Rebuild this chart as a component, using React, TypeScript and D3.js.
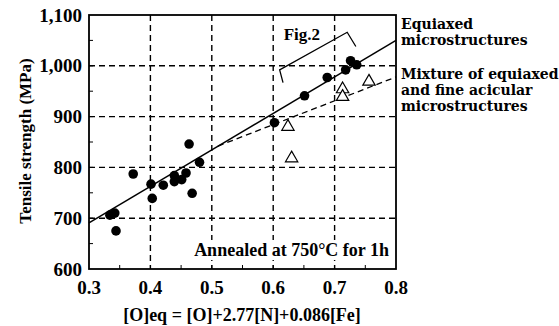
import { useEffect, useRef } from "react";
import * as d3 from "d3";

// equiaxed microstructures (filled circles)
const equiaxedX = [0.334, 0.342, 0.344, 0.372, 0.401, 0.403, 0.421, 0.439, 0.439, 0.451, 0.458, 0.463, 0.468, 0.48, 0.602, 0.651, 0.688, 0.718, 0.726, 0.736];
const equiaxedY = [706, 710, 675, 787, 767, 739, 765, 784, 772, 776, 789, 846, 749, 810, 888, 941, 977, 992, 1010, 1002];

// mixture of equiaxed and fine acicular (open triangles)
const mixtureX = [0.624, 0.63, 0.713, 0.713, 0.756];
const mixtureY = [880, 818, 954, 939, 969];

// fitted lines
const solidLineX = [0.3, 0.8];
const solidLineY = [691, 1050];
const dashedLineX = [0.51, 0.8];
const dashedLineY = [842, 978];

// Fig.2 bracket
const bracketX = [0.616, 0.6105, 0.7205, 0.7346];
const bracketY = [967, 992, 1066, 1038];

const xTicks = [0.3, 0.4, 0.5, 0.6, 0.7, 0.8];
const yTicks = [600, 700, 800, 900, 1000, 1100];
const xGrid = [0.4, 0.5, 0.6, 0.7];
const yGrid = [700, 800, 900, 1000];
const xMinor = [0.35, 0.45, 0.55, 0.65, 0.75];
const yMinor = [650, 750, 850, 950, 1050];

const legendEq = ["Equiaxed", "microstructures"];
const legendMix = ["Mixture of equiaxed", "and fine acicular", "microstructures"];

const FONT = "Liberation Serif, Times New Roman, Times, serif";
const LEGEND_FONT = "DejaVu Serif, serif";

const App = () => {
  const ref = useRef<SVGSVGElement>(null);

  useEffect(() => {
    const width = 559;
    const height = 326;
    const svg = d3.select(ref.current).attr("width", width).attr("height", height);
    svg.selectAll("*").remove();

    const x = d3.scaleLinear().domain([0.3, 0.8]).range([89, 396]);
    const y = d3.scaleLinear().domain([600, 1100]).range([269, 15]);
    const [x0, x1] = x.range();
    const [y0, y1] = y.range();

    // grid
    const grid = svg.append("g").attr("stroke", "#000").attr("stroke-width", 1.4).attr("stroke-dasharray", "6,4");
    grid.selectAll(".gx").data(xGrid).enter().append("line")
      .attr("x1", (d) => x(d)).attr("x2", (d) => x(d)).attr("y1", y1).attr("y2", y0);
    grid.selectAll(".gy").data(yGrid).enter().append("line")
      .attr("x1", x0).attr("x2", x1).attr("y1", (d) => y(d)).attr("y2", (d) => y(d));

    // minor / major ticks inward
    const ticks = svg.append("g").attr("stroke", "#000").attr("stroke-width", 1);
    ticks.selectAll(".tl").data([...yMinor, ...yGrid]).enter().append("line")
      .attr("x1", x0).attr("x2", x0 + 4).attr("y1", (d) => y(d)).attr("y2", (d) => y(d));
    ticks.selectAll(".tb").data([...xMinor, ...xGrid]).enter().append("line")
      .attr("x1", (d) => x(d)).attr("x2", (d) => x(d)).attr("y1", y0).attr("y2", y0 - 4);

    // frame
    svg.append("rect").attr("x", x0).attr("y", y1).attr("width", x1 - x0).attr("height", y0 - y1)
      .attr("fill", "none").attr("stroke", "#000").attr("stroke-width", 1.8);

    // annotation box
    const ann = svg.append("g");
    ann.append("rect").attr("x", 189).attr("y", 240).attr("width", 203).attr("height", 20).attr("fill", "#fff");
    ann.append("text").attr("x", 389).attr("y", 256).attr("text-anchor", "end")
      .style("font-family", FONT).attr("font-weight", "bold").attr("font-size", 18)
      .text("Annealed at 750°C for 1h");

    // lines
    const path = (xs: number[], ys: number[]) =>
      d3.line<number>().x((d) => x(d)).y((d, i) => y(ys[i]))(xs);
    svg.append("path").attr("d", path(solidLineX, solidLineY)).attr("fill", "none")
      .attr("stroke", "#000").attr("stroke-width", 1.5);
    svg.append("path").attr("d", path(dashedLineX, dashedLineY)).attr("fill", "none")
      .attr("stroke", "#000").attr("stroke-width", 1.3).attr("stroke-dasharray", "6,4");
    svg.append("path").attr("d", path(bracketX, bracketY)).attr("fill", "none")
      .attr("stroke", "#000").attr("stroke-width", 1.3);

    svg.append("text").attr("x", x(0.617)).attr("y", 40)
      .style("font-family", FONT).attr("font-weight", "bold").attr("font-size", 17)
      .text("Fig.2");

    // points
    svg.selectAll(".eq").data(equiaxedX).enter().append("circle")
      .attr("cx", (d) => x(d)).attr("cy", (d, i) => y(equiaxedY[i])).attr("r", 4.8).attr("fill", "#000");
    const tri = d3.symbol().type(d3.symbolTriangle).size(66);
    svg.selectAll(".mx").data(mixtureX).enter().append("path")
      .attr("d", tri() as string)
      .attr("transform", (d, i) => `translate(${x(d)},${y(mixtureY[i])})`)
      .attr("fill", "#fff").attr("stroke", "#000").attr("stroke-width", 1.2);

    // axis labels
    svg.append("g").selectAll("text").data(yTicks).enter().append("text")
      .attr("x", 82).attr("y", (d) => y(d)).attr("dy", "0.35em").attr("text-anchor", "end")
      .style("font-family", FONT).attr("font-weight", "bold").attr("font-size", 19)
      .text((d) => d3.format(",")(d));
    svg.append("g").selectAll("text").data(xTicks).enter().append("text")
      .attr("x", (d) => x(d)).attr("y", 294).attr("text-anchor", "middle")
      .style("font-family", FONT).attr("font-weight", "bold").attr("font-size", 19)
      .text((d) => d3.format(".1f")(d));

    svg.append("text").attr("x", 242).attr("y", 321).attr("text-anchor", "middle")
      .style("font-family", FONT).attr("font-weight", "bold").attr("font-size", 18)
      .text("[O]eq = [O]+2.77[N]+0.086[Fe]");
    svg.append("text").attr("transform", "translate(31,141) rotate(-90)").attr("text-anchor", "middle")
      .style("font-family", FONT).attr("font-weight", "bold").attr("font-size", 17)
      .text("Tensile strength (MPa)");

    // legend
    const leg = svg.append("g").style("font-family", LEGEND_FONT).attr("font-weight", "bold").attr("font-size", 14);
    leg.selectAll(".le").data(legendEq).enter().append("text")
      .attr("x", 401).attr("y", (d, i) => 29 + i * 16).text((d) => d);
    leg.selectAll(".lm").data(legendMix).enter().append("text")
      .attr("x", 401).attr("y", (d, i) => 79 + i * 16).text((d) => d);
  }, []);

  return (
    <svg ref={ref} style={{ position: "absolute", left: 0, top: 0, background: "#fff" }}></svg>
  );
};

export default App;
